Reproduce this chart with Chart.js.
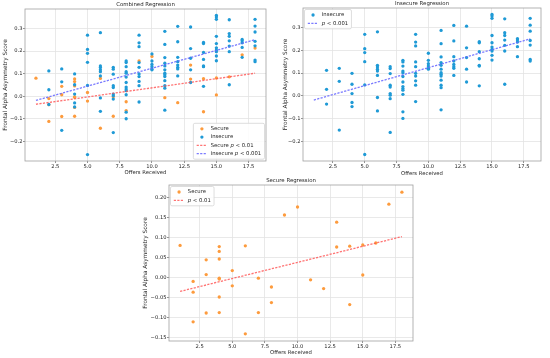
<!DOCTYPE html>
<html>
<head>
<meta charset="utf-8">
<script src="https://cdn.jsdelivr.net/npm/chart.js@4.4.0/dist/chart.umd.min.js"></script>
<style>
  body { margin: 0; background: #fff; }
  .wrap { position: absolute; }
</style>
</head>
<body>
<div class="wrap" style="left:0;top:0"><canvas id="combined" width="275" height="180"></canvas></div>
<div class="wrap" style="left:275px;top:0"><canvas id="insecure" width="275" height="180"></canvas></div>
<div class="wrap" style="left:130px;top:178px"><canvas id="secure" width="290" height="180"></canvas></div>
<script>
// offers received (x) and frontal alpha asymmetry score (y)
const secureX = [1, 2, 2, 2, 3, 3, 3, 4, 4, 4, 4, 4, 4, 4, 5, 5, 6, 6, 7, 7, 8, 8,
  9, 10, 11, 12, 13, 13, 14, 14, 15, 15, 16, 17, 18];
const secureY = [0.080, -0.010, -0.037, -0.111, 0.044, 0.007, -0.089,
  0.077, 0.065, 0.046, -0.002, -0.004, -0.049, -0.088, 0.017, -0.021,
  0.079, -0.141, -0.002, -0.088, -0.024, -0.063, 0.156, 0.176, -0.006,
  -0.028, 0.138, 0.076, 0.078, -0.068, 0.081, 0.006, 0.086, 0.183, 0.213];

const insecureX = [2, 2, 2, 3, 3, 3, 4, 4, 4, 4, 4,
  5, 5, 5, 5, 5, 5, 6, 6, 6, 6, 6, 6, 6, 6,
  7, 7, 7, 7, 7, 7, 7, 7, 7,
  8, 8, 8, 8, 8, 8, 8, 8, 8, 8, 8, 8, 8,
  9, 9, 9, 9, 9, 9, 9, 9, 9, 9,
  10, 10, 10, 10, 10, 10,
  11, 11, 11, 11, 11, 11, 11, 11, 11, 11, 11, 11, 11,
  12, 12, 12, 12, 12, 12, 12, 12,
  13, 13, 13, 13, 13,
  14, 14, 14, 14, 14, 14, 14,
  15, 15, 15, 15, 15, 15, 15, 15, 15, 15,
  16, 16, 16, 16, 16, 16, 16,
  17, 17, 17, 17, 17,
  18, 18, 18, 18, 18, 18, 18];
const insecureY = [0.112, 0.029, -0.036, 0.121, 0.064, -0.150,
  0.099, 0.051, 0.010, -0.029, -0.047,
  0.270, 0.207, 0.190, 0.150, 0.048, -0.257,
  0.281, 0.134, 0.127, 0.117, 0.109, 0.090, -0.007, -0.066,
  0.128, 0.120, 0.098, 0.047, 0.039, 0.010, 0.003, -0.012, -0.160,
  0.156, 0.149, 0.131, 0.109, 0.102, 0.085, 0.061, 0.041, 0.032, 0.025, 0.007, -0.070, -0.099,
  0.270, 0.236, 0.219, 0.149, 0.128, 0.099, 0.087, 0.066, 0.047, -0.025,
  0.187, 0.156, 0.141, 0.131, 0.121, 0.117,
  0.287, 0.229, 0.171, 0.146, 0.134, 0.117, 0.102, 0.095, 0.087, 0.069, 0.047, 0.036, -0.061,
  0.309, 0.241, 0.172, 0.153, 0.138, 0.128, 0.121, 0.090,
  0.306, 0.211, 0.168, 0.117, 0.061,
  0.238, 0.233, 0.194, 0.163, 0.134, 0.131, 0.044,
  0.357, 0.350, 0.340, 0.265, 0.233, 0.214, 0.204, 0.197, 0.178, 0.157,
  0.338, 0.277, 0.265, 0.245, 0.222, 0.197, 0.051,
  0.251, 0.245, 0.236, 0.216, 0.172,
  0.340, 0.310, 0.284, 0.243, 0.223, 0.160, 0.153];

// regression line ends at x = 1 and x = 18
const fitX = [1, 18];
const secureFit = [-0.035, 0.102];
const insecureFit = [-0.018, 0.250];

const xTicks = [2.5, 5, 7.5, 10, 12.5, 15, 17.5];
const yTicksWide = [-0.2, -0.1, 0, 0.1, 0.2, 0.3];
const yTicksSecure = [-0.15, -0.1, -0.05, 0, 0.05, 0.1, 0.15, 0.2];

const SECURE = '#fd9b3d';
const INSECURE = '#1f9ad6';
const SECURE_LINE = 'rgba(255, 80, 80, 0.8)';
const INSECURE_LINE = 'rgba(100, 100, 255, 0.85)';
const TEXT = '#262626';
const FONT = '"DejaVu Sans", sans-serif';
const DASH = [2.2, 1.3];

Chart.defaults.font.family = FONT;
Chart.defaults.color = TEXT;

function pts(xs, ys) {
  return xs.map((x, i) => ({ x: x, y: ys[i] }));
}

function scatterSet(label, xs, ys, color, order) {
  return { label, data: pts(xs, ys), backgroundColor: color, borderWidth: 0, pointRadius: 1.65, order };
}

function fitSet(label, ys, color) {
  return {
    label, data: pts(fitX, ys), showLine: true, borderColor: color, borderWidth: 1.3,
    borderDash: DASH, pointRadius: 0, order: 0
  };
}

function fmt(v, d) {
  return (v < 0 ? '\u2212' : '') + Math.abs(v).toFixed(d);
}

// text with *italic* parts
function richParts(text) {
  return text.split('*').map((t, i) => ({ t, it: i % 2 === 1 }));
}

function richWidth(ctx, text, fs) {
  let w = 0;
  richParts(text).forEach(p => {
    ctx.font = (p.it ? 'italic ' : '') + fs + 'px ' + FONT;
    w += ctx.measureText(p.t).width;
  });
  return w;
}

function drawLegend(ctx, a, lg) {
  const fs = 5.3, pad = 3.3, handle = 10.5, gap = 3.5, row = 8.3, edge = 5.5;
  const w = pad + handle + gap + Math.max(...lg.items.map(it => richWidth(ctx, it.text, fs))) + pad;
  const h = edge * 2 + row * (lg.items.length - 1);
  const x = lg.corner === 'br' ? a.right - 1.5 - w : a.left + 1.5;
  const y = lg.corner === 'br' ? a.bottom - 1.8 - h : a.top + 1.5;

  ctx.beginPath();
  ctx.roundRect(x, y, w, h, 1.5);
  ctx.fillStyle = 'rgba(255,255,255,0.85)';
  ctx.fill();
  ctx.strokeStyle = '#d4d4d4';
  ctx.lineWidth = 0.8;
  ctx.stroke();

  lg.items.forEach((it, i) => {
    const cy = y + edge + i * row;
    const hx = x + pad;
    if (it.line) {
      ctx.save();
      ctx.setLineDash(DASH);
      ctx.strokeStyle = it.color;
      ctx.lineWidth = 1.3;
      ctx.beginPath();
      ctx.moveTo(hx, cy);
      ctx.lineTo(hx + handle, cy);
      ctx.stroke();
      ctx.restore();
    } else {
      ctx.fillStyle = it.color;
      ctx.beginPath();
      ctx.arc(hx + handle / 2, cy, 1.65, 0, Math.PI * 2);
      ctx.fill();
    }
    let tx = hx + handle + gap;
    ctx.fillStyle = TEXT;
    ctx.textAlign = 'left';
    ctx.textBaseline = 'middle';
    richParts(it.text).forEach(p => {
      ctx.font = (p.it ? 'italic ' : '') + fs + 'px ' + FONT;
      ctx.fillText(p.t, tx, cy);
      tx += ctx.measureText(p.t).width;
    });
  });
}

// axes frame, title over the plot area and the boxed legend
function decor(title, legend) {
  return {
    id: 'decor',
    afterDraw(chart) {
      const { ctx, chartArea: a } = chart;
      ctx.save();
      ctx.strokeStyle = '#a0a0a0';
      ctx.lineWidth = 0.8;
      ctx.strokeRect(a.left, a.top, a.right - a.left, a.bottom - a.top);
      ctx.fillStyle = TEXT;
      ctx.font = '5.4px ' + FONT;
      ctx.textAlign = 'center';
      ctx.textBaseline = 'middle';
      ctx.fillText(title, (a.left + a.right) / 2, a.top - 4);
      drawLegend(ctx, a, legend);
      ctx.restore();
    }
  };
}

function makeChart(id, cfg) {
  return new Chart(document.getElementById(id), {
    type: 'scatter',
    data: { datasets: cfg.datasets },
    options: {
      responsive: false,
      animation: false,
      events: [],
      layout: { padding: cfg.padding },
      plugins: { legend: { display: false }, title: { display: false }, tooltip: { enabled: false } },
      scales: {
        x: {
          type: 'linear', min: 0.15, max: 18.85,
          afterBuildTicks: s => { s.ticks = xTicks.map(v => ({ value: v })); },
          afterFit: s => { s.height = cfg.xHeight; },
          ticks: { callback: v => fmt(v, 1), font: { size: 5.2 }, padding: 0.5, maxRotation: 0, autoSkip: false },
          grid: { color: '#e3e3e3', lineWidth: 0.8, tickLength: 2, tickColor: '#777' },
          border: { display: false },
          title: { display: true, text: 'Offers Received', font: { size: 5.3 }, padding: { top: 0, bottom: cfg.xTitlePad } }
        },
        y: {
          type: 'linear', min: cfg.yMin, max: cfg.yMax,
          afterBuildTicks: s => { s.ticks = cfg.yTicks.map(v => ({ value: v })); },
          afterFit: s => { s.width = cfg.yWidth; },
          ticks: { callback: v => fmt(v, cfg.yDigits), font: { size: 5.2 }, padding: 0.5, autoSkip: false },
          grid: { color: '#e3e3e3', lineWidth: 0.8, tickLength: 2, tickColor: '#777' },
          border: { display: false },
          title: { display: true, text: 'Frontal Alpha Asymmetry Score', font: { size: 5.8 }, padding: { top: cfg.yTitlePad, bottom: 0 } }
        }
      }
    },
    plugins: [decor(cfg.title, cfg.legend)]
  });
}

makeChart('combined', {
  title: 'Combined Regression',
  padding: { top: 9, right: 9, left: 0, bottom: 0 },
  xHeight: 19, yWidth: 25, xTitlePad: 4.5, yTitlePad: 2.5,
  yMin: -0.2855, yMax: 0.3855, yTicks: yTicksWide, yDigits: 1,
  datasets: [
    fitSet('Secure p < 0.01', secureFit, SECURE_LINE),
    fitSet('Insecure p < 0.001', insecureFit, INSECURE_LINE),
    scatterSet('Insecure', insecureX, insecureY, INSECURE, 2),
    scatterSet('Secure', secureX, secureY, SECURE, 3)
  ],
  legend: {
    corner: 'br',
    items: [
      { text: 'Secure', color: SECURE },
      { text: 'Insecure', color: INSECURE },
      { text: 'Secure *p* < 0.01', color: SECURE_LINE, line: true },
      { text: 'Insecure *p* < 0.001', color: INSECURE_LINE, line: true }
    ]
  }
});

makeChart('insecure', {
  title: 'Insecure Regression',
  padding: { top: 8, right: 9, left: 0, bottom: 0 },
  xHeight: 19, yWidth: 28, xTitlePad: 3.5, yTitlePad: 7.5,
  yMin: -0.2855, yMax: 0.3855, yTicks: yTicksWide, yDigits: 1,
  datasets: [
    fitSet('p < 0.001', insecureFit, INSECURE_LINE),
    scatterSet('Insecure', insecureX, insecureY, INSECURE, 2)
  ],
  legend: {
    corner: 'tl',
    items: [
      { text: 'Insecure', color: INSECURE },
      { text: '*p* < 0.001', color: INSECURE_LINE, line: true }
    ]
  }
});

makeChart('secure', {
  title: 'Secure Regression',
  padding: { top: 7, right: 7, left: 0, bottom: 0 },
  xHeight: 17, yWidth: 39, xTitlePad: 2.5, yTitlePad: 12.5,
  yMin: -0.159, yMax: 0.231, yTicks: yTicksSecure, yDigits: 2,
  datasets: [
    fitSet('p < 0.01', secureFit, SECURE_LINE),
    scatterSet('Secure', secureX, secureY, SECURE, 3)
  ],
  legend: {
    corner: 'tl',
    items: [
      { text: 'Secure', color: SECURE },
      { text: '*p* < 0.01', color: SECURE_LINE, line: true }
    ]
  }
});
</script>
</body>
</html>
